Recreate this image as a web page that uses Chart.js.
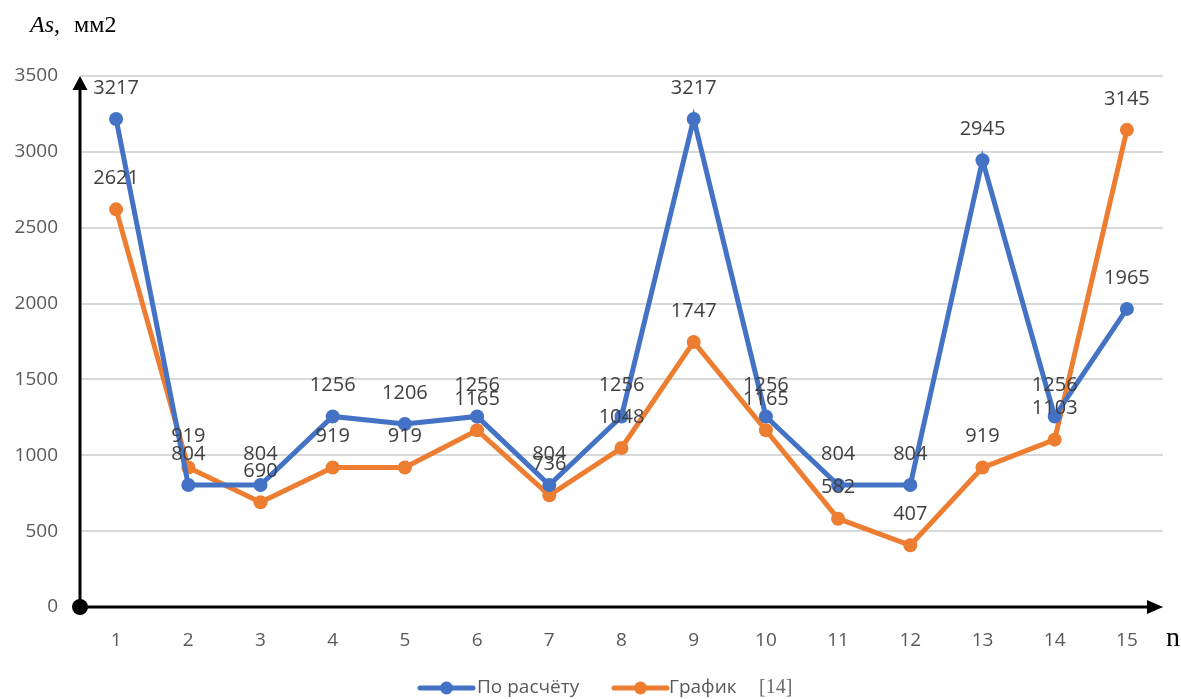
<!DOCTYPE html>
<html>
<head>
<meta charset="utf-8">
<script src="https://cdn.jsdelivr.net/npm/chart.js@4.4.1/dist/chart.umd.min.js"></script>
<style>
  html, body { margin: 0; padding: 0; background: #ffffff; }
  #wrap { width: 1181px; height: 699px; position: relative; }
</style>
</head>
<body>
<div id="wrap"><canvas id="chart"></canvas></div>
<script>
// Section numbers along the horizontal axis
const categories = ['1', '2', '3', '4', '5', '6', '7', '8', '9', '10', '11', '12', '13', '14', '15'];

// Reinforcement area As, mm2
const calcValues  = [3217, 804, 804, 1256, 1206, 1256, 804, 1256, 3217, 1256, 804, 804, 2945, 1256, 1965];
const chartValues = [2621, 919, 690, 919, 919, 1165, 736, 1048, 1747, 1165, 582, 407, 919, 1103, 3145];

const seriesNames = ['По расчёту', 'График'];
const seriesRef = '[14]';
const yTickValues = [0, 500, 1000, 1500, 2000, 2500, 3000, 3500];

const axisTitleY = { italic: 'As', rest: ',', unit: 'мм2' };
const axisTitleX = 'n';

const BLUE = '#4472C4';
const ORANGE = '#ED7D31';
const GREY_TEXT = '#595959';
const UI_FONT = '"Open Sans", "Liberation Sans", sans-serif';
const SERIF = '"Liberation Serif", "DejaVu Serif", serif';

// Short line with a round marker in the middle, as used in the legend
function drawSwatch(ctx, x, y, w, color) {
  ctx.strokeStyle = color; ctx.lineWidth = 5; ctx.lineCap = 'round';
  ctx.beginPath(); ctx.moveTo(x + 2, y); ctx.lineTo(x + w - 2, y); ctx.stroke();
  ctx.fillStyle = color;
  ctx.beginPath(); ctx.arc(x + w / 2, y, 6.5, 0, Math.PI * 2); ctx.fill();
}

const axesPlugin = {
  id: 'arrowAxes',
  beforeDatasetsDraw(chart) {
    // arrowed axes with a dot at the origin
    const { ctx, chartArea: a, scales } = chart;
    const ox = a.left;
    const oy = scales.y.getPixelForValue(0);
    ctx.save();
    ctx.strokeStyle = '#000'; ctx.fillStyle = '#000'; ctx.lineWidth = 3;
    ctx.beginPath(); ctx.moveTo(ox, oy); ctx.lineTo(ox, a.top + 10); ctx.stroke();
    ctx.beginPath();
    ctx.moveTo(ox, a.top); ctx.lineTo(ox - 7.5, a.top + 14); ctx.lineTo(ox + 7.5, a.top + 14);
    ctx.closePath(); ctx.fill();
    const tip = a.right;
    ctx.beginPath(); ctx.moveTo(ox, oy); ctx.lineTo(tip - 10, oy); ctx.stroke();
    ctx.beginPath();
    ctx.moveTo(tip, oy); ctx.lineTo(tip - 16, oy - 7); ctx.lineTo(tip - 16, oy + 7);
    ctx.closePath(); ctx.fill();
    ctx.beginPath(); ctx.arc(ox, oy, 8, 0, Math.PI * 2); ctx.fill();
    ctx.restore();
  },
  afterDatasetsDraw(chart) {
    // value labels above every point
    const { ctx } = chart;
    ctx.save();
    ctx.font = '20px ' + UI_FONT;
    ctx.fillStyle = '#404040';
    ctx.textAlign = 'center';
    ctx.textBaseline = 'middle';
    chart.data.datasets.forEach((ds, i) => {
      const meta = chart.getDatasetMeta(i);
      meta.data.forEach((pt, j) => {
        ctx.fillText(String(ds.data[j]), pt.x, pt.y - 31);
      });
    });
    ctx.restore();
  },
  afterDraw(chart) {
    const { ctx, chartArea: a, scales } = chart;
    ctx.save();
    // axis titles
    ctx.fillStyle = '#000';
    ctx.textBaseline = 'alphabetic';
    ctx.textAlign = 'left';
    ctx.font = 'italic 24px ' + SERIF;
    ctx.fillText(axisTitleY.italic, 30, 32);
    const w1 = ctx.measureText(axisTitleY.italic).width;
    ctx.font = '24px ' + SERIF;
    ctx.fillText(axisTitleY.rest, 30 + w1, 32);
    ctx.fillText(axisTitleY.unit, 74, 32);
    ctx.font = '28px ' + SERIF;
    ctx.fillText(axisTitleX, a.right + 3, scales.y.getPixelForValue(0) + 39);

    // legend
    const ly = 688;
    ctx.textBaseline = 'middle';
    const datasets = chart.data.datasets;
    drawSwatch(ctx, 418, ly, 57, datasets[0].borderColor);
    ctx.font = '19px ' + UI_FONT;
    ctx.fillStyle = GREY_TEXT;
    ctx.fillText(datasets[0].label, 477, ly);
    drawSwatch(ctx, 612, ly, 57, datasets[1].borderColor);
    ctx.font = '19px ' + UI_FONT;
    ctx.fillStyle = GREY_TEXT;
    ctx.fillText(datasets[1].label, 669, ly);
    ctx.font = '20px ' + SERIF;
    ctx.fillStyle = '#6b6b6b';
    ctx.fillText(seriesRef, 759, ly);
    ctx.restore();
  }
};

new Chart(document.getElementById('chart'), {
  type: 'line',
  data: {
    labels: categories,
    datasets: [
      {
        label: seriesNames[0], data: calcValues,
        borderColor: BLUE, backgroundColor: BLUE,
        borderWidth: 5, pointRadius: 7, pointHoverRadius: 7,
        pointBackgroundColor: BLUE, pointBorderWidth: 0, tension: 0
      },
      {
        label: seriesNames[1], data: chartValues,
        borderColor: ORANGE, backgroundColor: ORANGE,
        borderWidth: 5, pointRadius: 7, pointHoverRadius: 7,
        pointBackgroundColor: ORANGE, pointBorderWidth: 0, tension: 0
      }
    ]
  },
  options: {
    responsive: true,
    maintainAspectRatio: false,
    animation: false,
    layout: { padding: { top: 76, left: 0, right: 18, bottom: 0 } },
    plugins: {
      tooltip: { enabled: false },
      legend: { display: false }
    },
    scales: {
      x: {
        offset: true,
        grid: { display: false, drawTicks: false },
        border: { display: false },
        ticks: { color: GREY_TEXT, font: { family: UI_FONT, size: 19 }, padding: 22 },
        afterFit(scale) { scale.height = 92; }
      },
      y: {
        min: 0, max: 3500,
        afterBuildTicks(scale) { scale.ticks = yTickValues.map(v => ({ value: v })); },
        grid: { color: '#d9d9d9', lineWidth: 2, drawTicks: false },
        border: { display: false },
        ticks: {
          color: GREY_TEXT, font: { family: UI_FONT, size: 19 }, padding: 22,
          callback: v => String(v)
        },
        afterFit(scale) { scale.width = 80; }
      }
    }
  },
  plugins: [axesPlugin]
});
</script>
</body>
</html>
